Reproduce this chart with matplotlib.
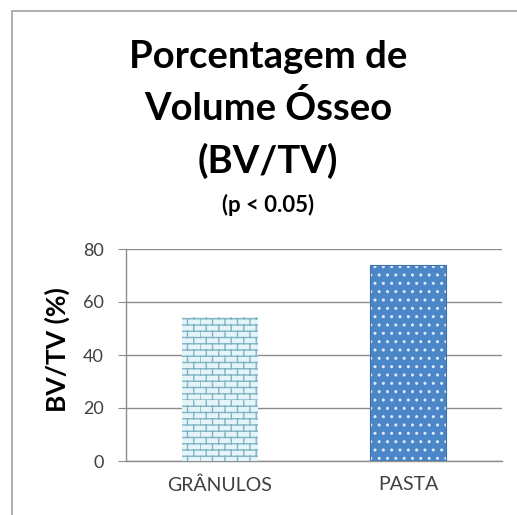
import warnings
import numpy as np
import matplotlib
matplotlib.use("Agg")
import matplotlib.pyplot as plt
import matplotlib.hatch as mhatch
from matplotlib.patches import Rectangle

warnings.filterwarnings("ignore")

# data
categories = ["GRÂNULOS", "PASTA"]
values = [54.5, 74]
yticks = [0, 20, 40, 60, 80]
title_lines = ["Porcentagem de", "Volume Ósseo", "(BV/TV)"]
subtitle = "(p < 0.05)"
ylabel = "BV/TV (%)"


# brick hatch like the Excel pattern fill
class BrickHatch(mhatch.HatchPatternBase):
    def __init__(self, hatch, density):
        self.rows = 16 if "B" in hatch else 0
        self.cols = 8
        self.num_vertices = 2 * self.rows + 2 * self.rows * self.cols

    def set_vertices_and_codes(self, vertices, codes):
        n, m = self.rows, self.cols
        i = 0
        for k in range(n):
            y0, y1 = k / n, (k + 1) / n
            vertices[i] = (0, y0)
            vertices[i + 1] = (1, y0)
            i += 2
            off = 0.5 * (k % 2)
            for j in range(m):
                x = (j + off) / m
                vertices[i] = (x, y0)
                vertices[i + 1] = (x, y1)
                i += 2
        codes[0::2] = mhatch.Path.MOVETO
        codes[1::2] = mhatch.Path.LINETO


mhatch._hatch_types.append(BrickHatch)

plt.rcParams["font.family"] = ["Lato", "DejaVu Sans"]
plt.rcParams["hatch.linewidth"] = 1.0

fig = plt.figure(figsize=(5.17, 5.15), dpi=100)
fig.patch.set_facecolor("white")

# chart border
fig.patches.append(Rectangle((12 / 517, -0.02), 1.1, 1 - 11 / 515 + 0.02,
                             transform=fig.transFigure, fill=False,
                             edgecolor="#a8a8a8", linewidth=1.3))

ax = fig.add_axes([126 / 517, 54 / 515, 376 / 517, 212 / 515])
x = np.arange(len(categories))

ax.bar(x[0], values[0], width=0.4, color="#e4f4f9", edgecolor="#80b4c4",
       linewidth=0, hatch="B", zorder=3)
ax.bar(x[1], values[1], width=0.4, color="#4a86c8", edgecolor="#dfeaf6",
       linewidth=0, hatch="..", zorder=3)
ax.bar(x[1], values[1], width=0.4, fill=False, edgecolor="#3f72a8",
       linewidth=0.8, zorder=4)

ax.set_xlim(-0.5, 1.5)
ax.set_ylim(0, 80)
ax.set_yticks(yticks)
ax.set_xticks(x)
ax.set_xticklabels(categories)
ax.yaxis.grid(True, color="#8c8c8c", linewidth=1.0, zorder=0)
ax.set_axisbelow(True)
for s in ["top", "right"]:
    ax.spines[s].set_visible(False)
for s in ["left", "bottom"]:
    ax.spines[s].set_color("#8c8c8c")
    ax.spines[s].set_linewidth(1.0)
ax.tick_params(axis="y", length=6, color="#8c8c8c", pad=10,
               labelsize=13, labelcolor="#404040")
ax.tick_params(axis="x", length=0, pad=11, labelsize=14,
               labelcolor="#404040")

fig.text(57 / 517, 1 - 350 / 515, ylabel, rotation=90, ha="center",
         va="center", fontsize=19, fontweight="bold", color="black")

baselines = [68, 120, 173]
for line, b in zip(title_lines, baselines):
    fig.text(268 / 517, 1 - b / 515, line, ha="center", va="baseline",
             fontsize=27.5, fontweight="bold", color="black")
fig.text(268 / 517, 1 - 212 / 515, subtitle, ha="center", va="baseline",
         fontsize=16, fontweight="bold", color="black")

fig.savefig("out.png", dpi=100)
